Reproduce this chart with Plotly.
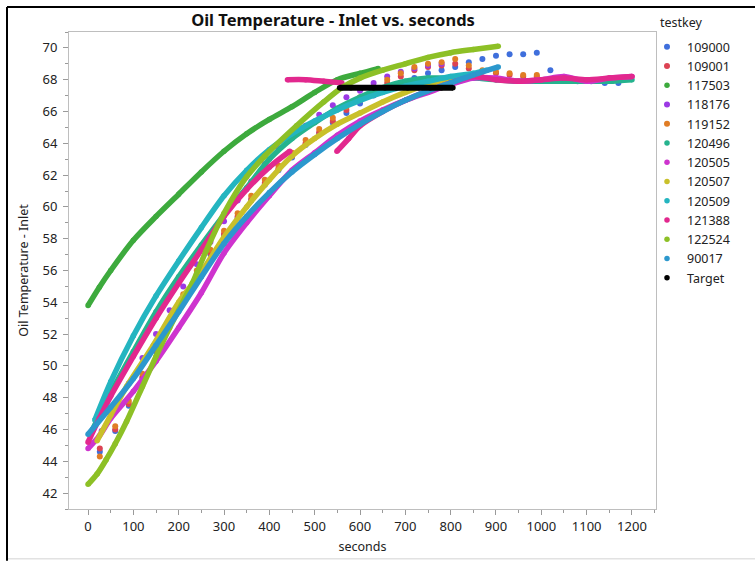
import plotly.graph_objects as go

# ---------------- data ----------------
names = ["109000", "109001", "117503", "118176", "119152", "120496", "120505",
         "120507", "120509", "121388", "122524", "90017", "Target"]

colors = ["#3F6FDC", "#DC4353", "#3DAA3D", "#9C39E4", "#E07D25", "#25B38E", "#CE33CE",
          "#C9C02A", "#24B5C0", "#E2288E", "#8DC026", "#2C98CD", "#000000"]

# sparse (sampled) series
s109000_x = [26, 60, 90, 120, 150, 180, 210, 240, 270, 300, 330, 360, 390, 420, 450, 480, 510, 540,
             570, 600, 630, 660, 690, 720, 750, 780, 810, 840, 870, 900, 930, 960, 990, 1020, 1050,
             1080, 1110, 1140, 1170]
s109000_y = [44.6, 45.9, 47.5, 49.2, 50.9, 52.6, 54.2, 55.7, 57.0, 58.2, 59.3, 60.4, 61.4, 62.3, 63.1,
             63.9, 64.6, 65.3, 65.9, 66.5, 67.0, 67.4, 67.8, 68.1, 68.4, 68.6, 68.8, 69.1, 69.3, 69.5,
             69.6, 69.6, 69.7, 68.6, 68.1, 67.9, 67.9, 67.8, 67.8]

s109001_x = [26, 60, 90, 120, 150, 180, 210, 240, 270, 300, 330, 360, 390, 420, 450, 480, 510, 540,
             570, 600, 630, 660, 690, 720, 750, 780, 810, 840, 870, 900, 930, 960, 990]
s109001_y = [44.8, 46.0, 47.6, 49.3, 51.0, 52.7, 54.3, 55.8, 57.1, 58.3, 59.4, 60.5, 61.5, 62.4, 63.2,
             64.0, 64.7, 65.4, 66.1, 66.7, 67.3, 67.8, 68.2, 68.6, 68.8, 68.9, 69.0, 68.7, 68.5, 68.4,
             68.3, 68.2, 68.2]

s118176_x = [30, 60, 90, 120, 150, 180, 210, 240, 270, 300, 330, 360, 390, 420, 450, 480, 510, 540,
             570, 600, 630, 660, 690, 720, 750, 780]
s118176_y = [45.9, 47.4, 48.9, 50.5, 52.0, 53.5, 55.0, 56.4, 57.8, 59.1, 60.4, 61.6, 62.7, 63.7, 64.5,
             65.1, 65.8, 66.4, 66.9, 67.3, 67.8, 68.2, 68.5, 68.7, 68.9, 69.0]

s119152_x = [26, 60, 90, 120, 150, 180, 210, 240, 270, 300, 330, 360, 390, 420, 450, 480, 510, 540,
             570, 600, 630, 660, 690, 720, 750, 780, 810, 840, 870, 900, 930, 960, 990]
s119152_y = [44.3, 46.2, 47.8, 49.5, 51.2, 52.9, 54.5, 56.0, 57.3, 58.5, 59.6, 60.7, 61.7, 62.6, 63.4,
             64.2, 64.9, 65.6, 66.3, 66.9, 67.5, 68.0, 68.4, 68.8, 69.0, 69.1, 69.3, 68.9, 68.6, 68.5,
             68.4, 68.3, 68.3]

# dense (continuous) series
s117503_x = [0, 25, 50, 100, 150, 200, 250, 300, 350, 400, 450, 500, 550, 600, 640]
s117503_y = [53.8, 54.95, 56.0, 57.9, 59.4, 60.8, 62.2, 63.5, 64.6, 65.5, 66.3, 67.2, 68.0, 68.4, 68.7]

s120496_x = [10, 50, 100, 150, 200, 250, 300, 350, 400, 450, 500, 550, 600, 650, 700, 750, 800, 850,
             900, 950, 1000, 1050, 1100, 1150, 1200]
s120496_y = [46.0, 48.3, 50.9, 53.4, 55.6, 57.6, 59.5, 61.2, 63.0, 64.3, 65.3, 66.2, 66.9, 67.5, 67.9,
             68.1, 68.1, 68.1, 68.0, 67.9, 67.9, 67.9, 67.9, 67.9, 68.0]

s120505_x = [0, 25, 50, 100, 150, 200, 250, 300, 350, 400, 450, 500, 550, 600, 650, 700, 750, 800,
             850, 900, 950, 1000, 1050, 1100, 1150, 1200]
s120505_y = [44.8, 45.6, 46.7, 48.4, 50.3, 52.4, 54.6, 57.1, 59.0, 60.7, 62.3, 63.4, 64.5, 65.4, 66.1,
             66.7, 67.2, 67.7, 68.1, 68.1, 67.9, 68.0, 68.2, 67.9, 68.1, 68.2]

s120507_x = [20, 50, 85, 144, 200, 250, 300, 350, 400, 450, 500, 550, 600, 650, 700, 750, 800]
s120507_y = [45.3, 46.9, 48.7, 51.3, 54.0, 55.9, 58.1, 60.0, 61.7, 63.2, 64.3, 65.2, 65.9, 66.6, 67.2,
             67.7, 68.1]

s120509_x = [15, 50, 100, 150, 200, 250, 300, 350, 400, 450, 500, 550, 600, 650, 700, 750, 800, 850, 880]
s120509_y = [46.6, 49.0, 51.9, 54.4, 56.6, 58.7, 60.7, 62.3, 63.6, 64.6, 65.4, 66.1, 66.7, 67.2, 67.6,
             67.9, 68.2, 68.4, 68.6]

# 121388 has three runs (None separates them)
s121388_x = [0, 25, 50, 100, 150, 200, 250, 300, 350, 400, 445, None,
             440, 480, 520, 560, None,
             549, 575, 600, 650, 700, 750, 800, 850, 900, 950, 1000, 1050, 1100, 1150, 1200]
s121388_y = [45.2, 46.7, 48.1, 50.6, 53.0, 55.2, 57.3, 59.4, 61.1, 62.5, 63.5, None,
             68.0, 68.0, 67.9, 67.8, None,
             63.5, 64.3, 65.1, 66.0, 66.7, 67.3, 67.8, 68.2, 68.0, 67.9, 68.0, 68.1, 68.0, 68.1, 68.2]

s122524_x = [0, 20, 40, 60, 85, 120, 150, 180, 230, 260, 300, 350, 390, 460, 520, 560, 600, 650, 700,
             750, 800, 850, 905]
s122524_y = [42.55, 43.2, 44.1, 45.1, 46.5, 48.7, 50.6, 52.4, 55.2, 57.2, 59.6, 61.9, 63.2, 65.1, 66.6,
             67.5, 68.1, 68.6, 69.0, 69.4, 69.7, 69.9, 70.1]

s90017_x = [0, 50, 100, 150, 200, 250, 300, 350, 400, 450, 500, 550, 600, 650, 700, 750, 800, 850, 905]
s90017_y = [45.7, 47.4, 49.2, 51.3, 53.4, 55.6, 57.7, 59.4, 60.9, 62.2, 63.3, 64.3, 65.2, 66.0, 66.7,
            67.3, 67.8, 68.3, 68.8]

target_x = [555, 580, 605, 630, 655, 680, 705, 730, 755, 780, 805]
target_y = [67.5, 67.5, 67.5, 67.5, 67.5, 67.5, 67.5, 67.5, 67.5, 67.5, 67.5]

series_x = [s109000_x, s109001_x, s117503_x, s118176_x, s119152_x, s120496_x, s120505_x,
            s120507_x, s120509_x, s121388_x, s122524_x, s90017_x, target_x]
series_y = [s109000_y, s109001_y, s117503_y, s118176_y, s119152_y, s120496_y, s120505_y,
            s120507_y, s120509_y, s121388_y, s122524_y, s90017_y, target_y]
sparse = {"109000", "109001", "118176", "119152"}

x_ticks = [0, 100, 200, 300, 400, 500, 600, 700, 800, 900, 1000, 1100, 1200]
y_ticks = [42, 44, 46, 48, 50, 52, 54, 56, 58, 60, 62, 64, 66, 68, 70]

# ---------------- figure ----------------
W, H = 755, 563
L, R, T, B = 69, 656, 32, 511  # plot area in pixels
FONT = "Noto Sans"

fig = go.Figure()
for nm, col, xs, ys in zip(names, colors, series_x, series_y):
    if nm not in sparse:
        fig.add_trace(go.Scatter(x=xs, y=ys, mode="lines", legendgroup=nm, showlegend=False,
                                 line=dict(color=col, width=6 if nm == "Target" else 5.5,
                                           shape="spline", smoothing=0.8),
                                 hoverinfo="skip"))
    fig.add_trace(go.Scatter(x=xs, y=ys, mode="markers", name=nm, legendgroup=nm,
                             marker=dict(color=col, size=6 if nm in sparse else 5.5)))


def px_x(p):
    return (p - L) / (R - L)


def px_y(p):
    return (B - p) / (B - T)


axis_common = dict(showgrid=False, zeroline=False, showline=True, mirror=True,
                   linecolor="#BEBEBE", linewidth=1, ticks="outside", ticklen=5,
                   tickcolor="#9A9A9A", tickwidth=1,
                   tickfont=dict(family=FONT, size=13, color="#222222"))

fig.update_layout(
    width=W, height=H,
    margin=dict(l=L, r=W - R, t=T, b=H - B, pad=0),
    paper_bgcolor="white", plot_bgcolor="white",
    font=dict(family=FONT, color="#222222"),
    title=dict(text="<b>Oil Temperature - Inlet vs. seconds</b>",
               x=333 / W, xref="container", xanchor="center",
               y=1 - 20 / H, yref="container", yanchor="middle",
               font=dict(family=FONT, size=16.5, color="#111111")),
    xaxis=dict(range=[-42, 1253], tickvals=x_ticks,
               minor=dict(dtick=50, tick0=0, ticks="outside", ticklen=3, tickcolor="#9A9A9A"),
               title=dict(text="seconds", font=dict(family=FONT, size=12.5, color="#222222"),
                          standoff=8),
               **axis_common),
    yaxis=dict(range=[41.0, 71.0], tickvals=y_ticks,
               minor=dict(dtick=1, tick0=0, ticks="outside", ticklen=3, tickcolor="#9A9A9A"),
               title=dict(text="Oil Temperature - Inlet",
                          font=dict(family=FONT, size=12.5, color="#222222"), standoff=11),
               ticklabelstandoff=3,
               **axis_common),
    legend=dict(x=px_x(647), y=px_y(32), xanchor="left", yanchor="top",
                bgcolor="rgba(0,0,0,0)", tracegroupgap=0, itemsizing="trace",
                font=dict(family=FONT, size=12.5, color="#222222")),
    showlegend=True,
)

fig.add_annotation(text="testkey", x=px_x(658), y=px_y(22), xref="paper", yref="paper",
                   xanchor="left", yanchor="middle", showarrow=False,
                   font=dict(family=FONT, size=12.5, color="#222222"))

# outer frame of the screenshot (black on left/top, light grey at bottom)
fig.add_shape(type="line", xref="paper", yref="paper", x0=px_x(7), x1=px_x(W), y0=px_y(7), y1=px_y(7),
              line=dict(color="black", width=2))
fig.add_shape(type="line", xref="paper", yref="paper", x0=px_x(7), x1=px_x(7), y0=px_y(7), y1=px_y(H),
              line=dict(color="black", width=2))
fig.add_shape(type="line", xref="paper", yref="paper", x0=px_x(8), x1=px_x(W), y0=px_y(561), y1=px_y(561),
              line=dict(color="#E2E2E2", width=1.5))

fig.write_html("out.html")
